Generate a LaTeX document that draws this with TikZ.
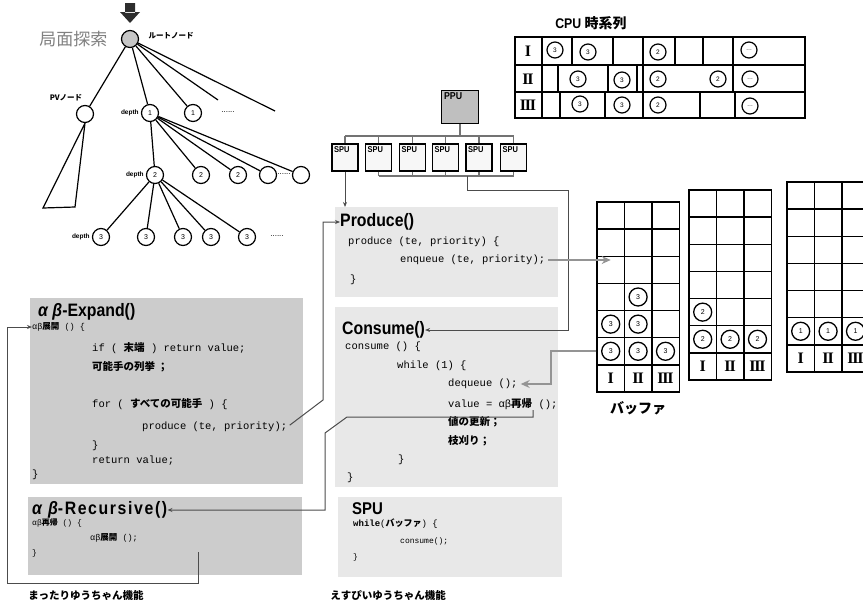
\documentclass[tikz,border=0pt]{standalone}
\usepackage{fontspec}
\setmainfont{Liberation Sans}
\setmonofont{Liberation Mono}
\newfontfamily\jpfont{Noto Sans CJK JP}
\newfontfamily\headfont[FakeStretch=0.88]{Liberation Sans}
\newfontfamily\spacedhead[FakeStretch=0.88,LetterSpace=9]{Liberation Sans}
\newfontfamily\romfont{Liberation Serif}
\usetikzlibrary{arrows.meta,positioning,calc}
\definecolor{panelA}{gray}{0.80}
\definecolor{panelB}{gray}{0.91}
\definecolor{wirec}{gray}{0.30}
\definecolor{busc}{gray}{0.45}
\definecolor{flowc}{gray}{0.58}
\newcommand{\jb}[1]{{\jpfont\bfseries #1}}
\newcommand{\fs}[1]{\fontsize{#1}{#1}\selectfont}
\newcommand{\romI}{I}
\newcommand{\romII}{I\kern-1.2pt I}
\newcommand{\romIII}{I\kern-1.2pt I\kern-1.2pt I}

\tikzset{
  tnode/.style={circle,draw,line width=1.2pt,minimum size=17pt,inner sep=0pt,font=\fs{7}},
  qnode/.style={circle,draw,line width=1.3pt,minimum size=18pt,inner sep=0pt,font=\fs{7}},
  cnode/.style={circle,draw,line width=1.2pt,minimum size=16pt,inner sep=0pt,font=\fs{6.5}},
  treeline/.style={line width=1.2pt},
  depthlbl/.style={font=\bfseries\fs{6.5},inner sep=1pt},
  codebg/.style={fill=#1,anchor=north west,inner sep=0pt},
  codeline/.style={anchor=west,inner sep=0pt,font=\ttfamily\fs{10.5}},
  smallcode/.style={anchor=west,inner sep=0pt,font=\ttfamily\fs{8}},
  headline/.style={anchor=west,inner sep=0pt,font=\headfont\bfseries\fs{18}},
  wire/.style={draw=wirec,line width=1pt,-{Stealth[length=5pt,width=4pt]}},
  flowarrow/.style={draw=flowc,line width=1.8pt,-{Stealth[length=9pt,width=8pt]}},
  bus/.style={draw=busc,line width=1.3pt},
  tbl/.style={line width=1.4pt},
  spubox/.style={draw,line width=1.2pt,fill=gray!6,minimum width=26pt,minimum height=27pt,inner sep=0pt},
  bcell/.style={draw,line width=1.4pt,minimum width=27.4pt,minimum height=27.14pt,inner sep=0pt},
  romanlbl/.style={font=\romfont\bfseries\fs{16},inner sep=0pt},
}

\begin{document}
\begin{tikzpicture}[x=1pt,y=-1pt]
\useasboundingbox (0,0) rectangle (863,605);

% search tree
\fill[gray!35!black] (125,3) rectangle (135,13) (120,12) -- (140,12) -- (130,23) -- cycle;
\node[tnode,fill=gray!45] (root) at (130,39) {};
\node[left=10pt of root,text=gray,font=\jpfont\fs{17}] (kyoku) {局面探索};
\node[right=6pt of root,yshift=3pt,font=\jpfont\bfseries\fs{7.5}] (rootlbl) {ルートノード};

\node[tnode] (pv) at (85,114) {};
\node[font=\jpfont\bfseries\fs{7.5}] (pvlbl) at (66,98) {PVノード};
\node[tnode] (d1) at (150,113) {1};
\node[tnode] (n1) at (193,113) {1};
\node[font=\fs{8}] (dots1) at (228,112) {......};
\coordinate (open1) at (218,100);
\coordinate (open2) at (275,111);

\node[tnode] (d2) at (155,175) {2};
\node[tnode] (n2a) at (201,175) {2};
\node[tnode] (n2b) at (238,175) {2};
\node[tnode] (n2c) at (268,175) {};
\node[tnode] (n2d) at (301,175) {};
\node[font=\fs{8}] (dots2) at (284,174) {......};

\node[tnode] (d3) at (101,237) {3};
\node[tnode] (n3a) at (146,237) {3};
\node[tnode] (n3b) at (183,237) {3};
\node[tnode] (n3c) at (211,237) {3};
\node[tnode] (n3d) at (247,237) {3};
\node[font=\fs{8}] (dots3) at (277,236) {......};

\node[depthlbl,left=1pt of d1] (dl1) {depth};
\node[depthlbl,left=1pt of d2] (dl2) {depth};
\node[depthlbl,left=1pt of d3] (dl3) {depth};

\foreach \t in {pv,d1,n1,open1,open2}
  \draw[treeline] (root) -- (\t);
\foreach \t in {d2,n2a,n2b,n2c,n2d}
  \draw[treeline] (d1) -- (\t);
\foreach \t in {d3,n3a,n3b,n3c,n3d}
  \draw[treeline] (d2) -- (\t);
\coordinate (tri1) at (43,208);
\coordinate (tri2) at (75,207);
\draw[treeline] (pv.south) -- (tri1) -- (tri2) -- (pv.south);

% CPU time line
\node[font=\headfont\bfseries\fs{14}] (cputitle) at (591,23) {CPU \jb{時系列}};
\draw[tbl] (515,37) rectangle (805,118);
\draw[tbl] (515,65) -- (805,65) (515,92) -- (805,92) (542,37) -- (542,118);
\foreach \x in {572,613,643,675,703,733}
  \draw[tbl] (\x,37) -- (\x,65);
\foreach \x in {558,608,637,643,733}
  \draw[tbl] (\x,65) -- (\x,92);
\foreach \x in {560,605,643,700,735}
  \draw[tbl] (\x,92) -- (\x,118);
\node[romanlbl] (cpu1) at (528,51) {\romI};
\node[romanlbl] (cpu2) at (528,79) {\romII};
\node[romanlbl] (cpu3) at (528,105) {\romIII};
\foreach \x/\y/\v [count=\k] in {555/50/3,588/52/3,658/52/2,749/50/\fs{6}…,
    578/79/3,622/80/3,658/79/2,718/79/2,750/79/\fs{6}…,
    580/104/3,622/105/3,658/105/2,750/106/\fs{6}…}
  \node[cnode] (ct\k) at (\x,\y) {\v};

% PPU and SPUs
\node[draw,line width=1.3pt,fill=gray!50,minimum width=37pt,minimum height=33pt] (ppu) at (460,107) {};
\node[anchor=north west,inner sep=3pt,font=\headfont\bfseries\fs{10}] (ppulbl) at (ppu.north west) {PPU};
\foreach \x [count=\i] in {345,378.5,412.5,445.5,479,513.5} {
  \node[spubox] (spu\i) at (\x,157.5) {};
  \node[anchor=north west,inner sep=2.5pt,font=\headfont\bfseries\fs{8.5}] (spul\i) at (spu\i.north west) {SPU};
}
\coordinate (bustop) at (460,136);
\coordinate (busbot) at (467,176);
\draw[bus] (ppu.south) -- (bustop);
\draw[bus] (spu1.north |- bustop) -- (spu6.north |- bustop);
\foreach \i in {1,...,6}
  \draw[bus] (spu\i.north) -- (spu\i.north |- bustop);
\draw[bus] (spu2.south |- busbot) -- (spu6.south |- busbot);
\foreach \i in {2,...,6}
  \draw[bus] (spu\i.south) -- (spu\i.south |- busbot);

% code panels
\node[codebg=panelB,minimum width=223pt,minimum height=90pt] (prodbg) at (335,207) {};
\node[codebg=panelB,minimum width=223pt,minimum height=180pt] (consbg) at (335,307) {};
\node[codebg=panelB,minimum width=224pt,minimum height=80pt] (spubg) at (338,497) {};
\node[codebg=panelA,minimum width=273pt,minimum height=186pt] (expbg) at (30,298) {};
\node[codebg=panelA,minimum width=274pt,minimum height=78pt] (recbg) at (28,497) {};

\node[headline] (prodtitle) at (340,222) {Produce()};
\node[codeline] (prodl1) at (348,242) {produce (te, priority) \{};
\node[codeline] (enq) at (400,260) {enqueue (te, priority);};
\node[codeline] (prodl3) at (350,280) {\}};

\node[headline] (constitle) at (342,330) {Consume()};
\node[codeline] (consl1) at (345,347) {consume () \{};
\node[codeline] (consl2) at (397,366) {while (1) \{};
\node[codeline] (deq) at (448,384) {dequeue ();};
\node[codeline] (consval) at (448,404) {value = αβ\jb{再帰} ();};
\node[codeline] (consl5) at (448,422) {\jb{値の更新；}};
\node[codeline] (consl6) at (448,441) {\jb{枝刈り；}};
\node[codeline] (consl7) at (398,460) {\}};
\node[codeline] (consl8) at (347,478) {\}};

\node[headline,font=\headfont\bfseries\fs{17}] (sputitle) at (352,509) {SPU};
\node[smallcode,font=\ttfamily\fs{9}] (spul1) at (353,524) {\textbf{while}(\jb{バッファ}) \{};
\node[smallcode] (spul2) at (400,541) {consume();};
\node[smallcode] (spul3) at (353,557) {\}};

\node[headline] (exptitle) at (38,312) {{\itshape α β}-Expand()};
\node[smallcode,font=\ttfamily\fs{8.5}] (exfirst) at (32,327) {αβ\jb{展開} () \{};
\node[codeline] (exl2) at (92,348) {if ( \jb{末端} ) return value;};
\node[codeline] (exl3) at (92,367) {\jb{可能手の列挙 ；}};
\node[codeline] (exl4) at (92,404) {for ( \jb{すべての可能手} ) \{};
\node[codeline] (exprod) at (142,427) {produce (te, priority);};
\node[codeline] (exl6) at (92,446) {\}};
\node[codeline] (exl7) at (92,461) {return value;};
\node[codeline] (exl8) at (32,475) {\}};

\node[headline,font=\spacedhead\bfseries\fs{18}] (rectitle) at (32,510) {{\itshape α β}-Recursive()};
\node[smallcode] (recl1) at (32,523) {αβ\jb{再帰} () \{};
\node[smallcode,font=\ttfamily\fs{8.5}] (recexp) at (90,538) {αβ\jb{展開} ();};
\node[smallcode] (recl3) at (32,553) {\}};

% buffers
\foreach \b/\x/\y in {1/597/202,2/689/190,3/787/182} {
  \foreach \r in {1,...,7}
    \foreach \c in {1,2,3}
      \node[bcell] (b\b-\r-\c) at ({\x+27.4*(\c-0.5)},{\y+27.14*(\r-0.5)}) {};
  \node[romanlbl] (bl\b-1) at (b\b-7-1) {\romI};
  \node[romanlbl] (bl\b-2) at (b\b-7-2) {\romII};
  \node[romanlbl] (bl\b-3) at (b\b-7-3) {\romIII};
}
\foreach \cell/\v [count=\k] in {b1-6-1/3,b1-6-2/3,b1-6-3/3,b1-5-1/3,b1-5-2/3,b1-4-2/3,
    b2-6-1/2,b2-6-2/2,b2-6-3/2,b2-5-1/2,b3-6-1/1,b3-6-2/1,b3-6-3/1}
  \node[qnode] (q\k) at (\cell) {\v};
\node[below=5pt of b1-7-2,font=\jpfont\bfseries\fs{14}] (buflbl) {バッファ};

% connectors
\draw[wire] (spu1.south) -- (spu1.south |- prodbg.north);
\coordinate (busturn) at (568,190);
\draw[wire] (busbot) |- (busturn) |- (constitle.east);
\coordinate (pk) at (323,400);
\draw[wire,shorten <=3pt] (exprod.east) -- (pk) |- (prodtitle.west);
\coordinate (rk1) at (533,410);
\coordinate (rk2) at (533,417);
\coordinate (rk3) at (347,417);
\coordinate (rk4) at (325,433);
\draw[wire] (rk1) -- (rk2) -- (rk3) -- (rk4) |- (rectitle.east);
\coordinate (loopstart) at (198,552);
\coordinate (loopdown) at (198,583);
\coordinate (loopleft) at (7,583);
\draw[wire] (loopstart) -- (loopdown) -- (loopleft) |- (exfirst.west);
\draw[flowarrow,shorten <=3pt] (enq.east) -- (enq.east -| b1-3-1.center);
\draw[flowarrow,shorten >=3pt] (b1-6-1.west) -| ($(deq.east)+(33,0)$) -- (deq.east);

\node[font=\jpfont\bfseries\fs{10.5}] (mattari) at (86,595) {まったりゆうちゃん機能};
\node[font=\jpfont\bfseries\fs{10.5}] (espi) at (388,595) {えすぴいゆうちゃん機能};
\end{tikzpicture}
\end{document}
